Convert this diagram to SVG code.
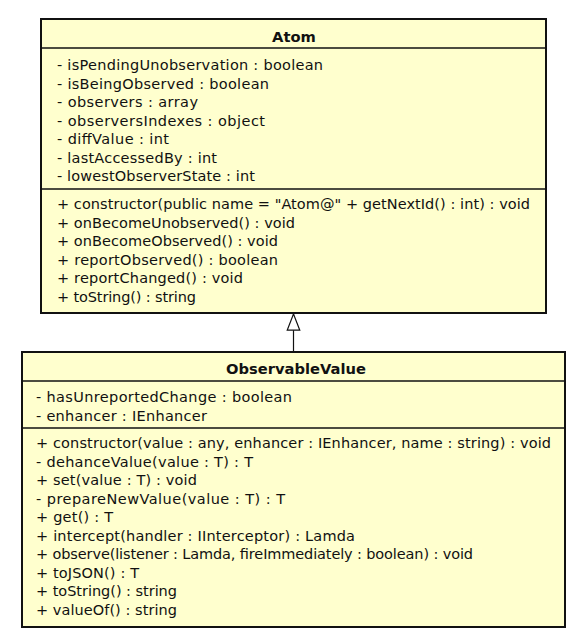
<svg xmlns="http://www.w3.org/2000/svg" width="583" height="640" viewBox="0 0 583 640">
<style>
.box{fill:#FFFFCE;stroke:#111;stroke-width:2}
.sep{stroke:#111;stroke-width:1.3}
.t{font-family:"DejaVu Sans",sans-serif;font-size:14.5px;fill:#111}
.h{font-family:"DejaVu Sans",sans-serif;font-size:14.7px;font-weight:bold;fill:#111;text-anchor:middle}
.conn{stroke:#111;stroke-width:1.2;fill:none}
</style>
<defs>
<marker id="gen" viewBox="0 0 20 16" refX="19" refY="8" markerWidth="18" markerHeight="15" markerUnits="userSpaceOnUse" orient="auto">
<path d="M1,1 L19,8 L1,15 Z" fill="#fff" stroke="#111" stroke-width="1.3"/>
</marker>
</defs>
<rect width="583" height="640" fill="#fff"/>
<g id="connectors">
<line class="conn" x1="293.5" y1="352" x2="293.5" y2="314" marker-end="url(#gen)"/>
</g>
<g id="Atom">
<rect class="box" x="41" y="19" width="505" height="294"/>
<line class="sep" x1="41" y1="48" x2="546" y2="48"/>
<line class="sep" x1="41" y1="189" x2="546" y2="189"/>
<text class="h" x="294" y="41.5">Atom</text>
<text class="t" x="57" y="70" textLength="266" lengthAdjust="spacing">- isPendingUnobservation : boolean</text>
<text class="t" x="57" y="88.5" textLength="212" lengthAdjust="spacing">- isBeingObserved : boolean</text>
<text class="t" x="57" y="107" textLength="141" lengthAdjust="spacing">- observers : array</text>
<text class="t" x="57" y="125.5" textLength="208" lengthAdjust="spacing">- observersIndexes : object</text>
<text class="t" x="57" y="144" textLength="112" lengthAdjust="spacing">- diffValue : int</text>
<text class="t" x="57" y="162.5" textLength="160" lengthAdjust="spacing">- lastAccessedBy : int</text>
<text class="t" x="57" y="181" textLength="198" lengthAdjust="spacing">- lowestObserverState : int</text>
<text class="t" x="57" y="209" textLength="473" lengthAdjust="spacing">+ constructor(public name = "Atom@" + getNextId() : int) : void</text>
<text class="t" x="57" y="227.5" textLength="238" lengthAdjust="spacing">+ onBecomeUnobserved() : void</text>
<text class="t" x="57" y="246" textLength="221" lengthAdjust="spacing">+ onBecomeObserved() : void</text>
<text class="t" x="57" y="264.5" textLength="221" lengthAdjust="spacing">+ reportObserved() : boolean</text>
<text class="t" x="57" y="283" textLength="186" lengthAdjust="spacing">+ reportChanged() : void</text>
<text class="t" x="57" y="301.5" textLength="139" lengthAdjust="spacing">+ toString() : string</text>
</g>
<g id="ObservableValue">
<rect class="box" x="22" y="352" width="543" height="275"/>
<line class="sep" x1="22" y1="381" x2="565" y2="381"/>
<line class="sep" x1="22" y1="428" x2="565" y2="428"/>
<text class="h" x="296" y="373.5">ObservableValue</text>
<text class="t" x="36" y="402" textLength="256" lengthAdjust="spacing">- hasUnreportedChange : boolean</text>
<text class="t" x="36" y="420.5" textLength="171" lengthAdjust="spacing">- enhancer : IEnhancer</text>
<text class="t" x="36" y="448" textLength="515" lengthAdjust="spacing">+ constructor(value : any, enhancer : IEnhancer, name : string) : void</text>
<text class="t" x="36" y="466.5" textLength="217" lengthAdjust="spacing">- dehanceValue(value : T) : T</text>
<text class="t" x="36" y="485" textLength="161" lengthAdjust="spacing">+ set(value : T) : void</text>
<text class="t" x="36" y="503.5" textLength="249" lengthAdjust="spacing">- prepareNewValue(value : T) : T</text>
<text class="t" x="36" y="522" textLength="77" lengthAdjust="spacing">+ get() : T</text>
<text class="t" x="36" y="540.5" textLength="319" lengthAdjust="spacing">+ intercept(handler : IInterceptor) : Lamda</text>
<text class="t" x="36" y="559" textLength="437" lengthAdjust="spacing">+ observe(listener : Lamda, fireImmediately : boolean) : void</text>
<text class="t" x="36" y="577.5" textLength="103" lengthAdjust="spacing">+ toJSON() : T</text>
<text class="t" x="36" y="596" textLength="141" lengthAdjust="spacing">+ toString() : string</text>
<text class="t" x="36" y="614.5" textLength="141" lengthAdjust="spacing">+ valueOf() : string</text>
</g>
</svg>
